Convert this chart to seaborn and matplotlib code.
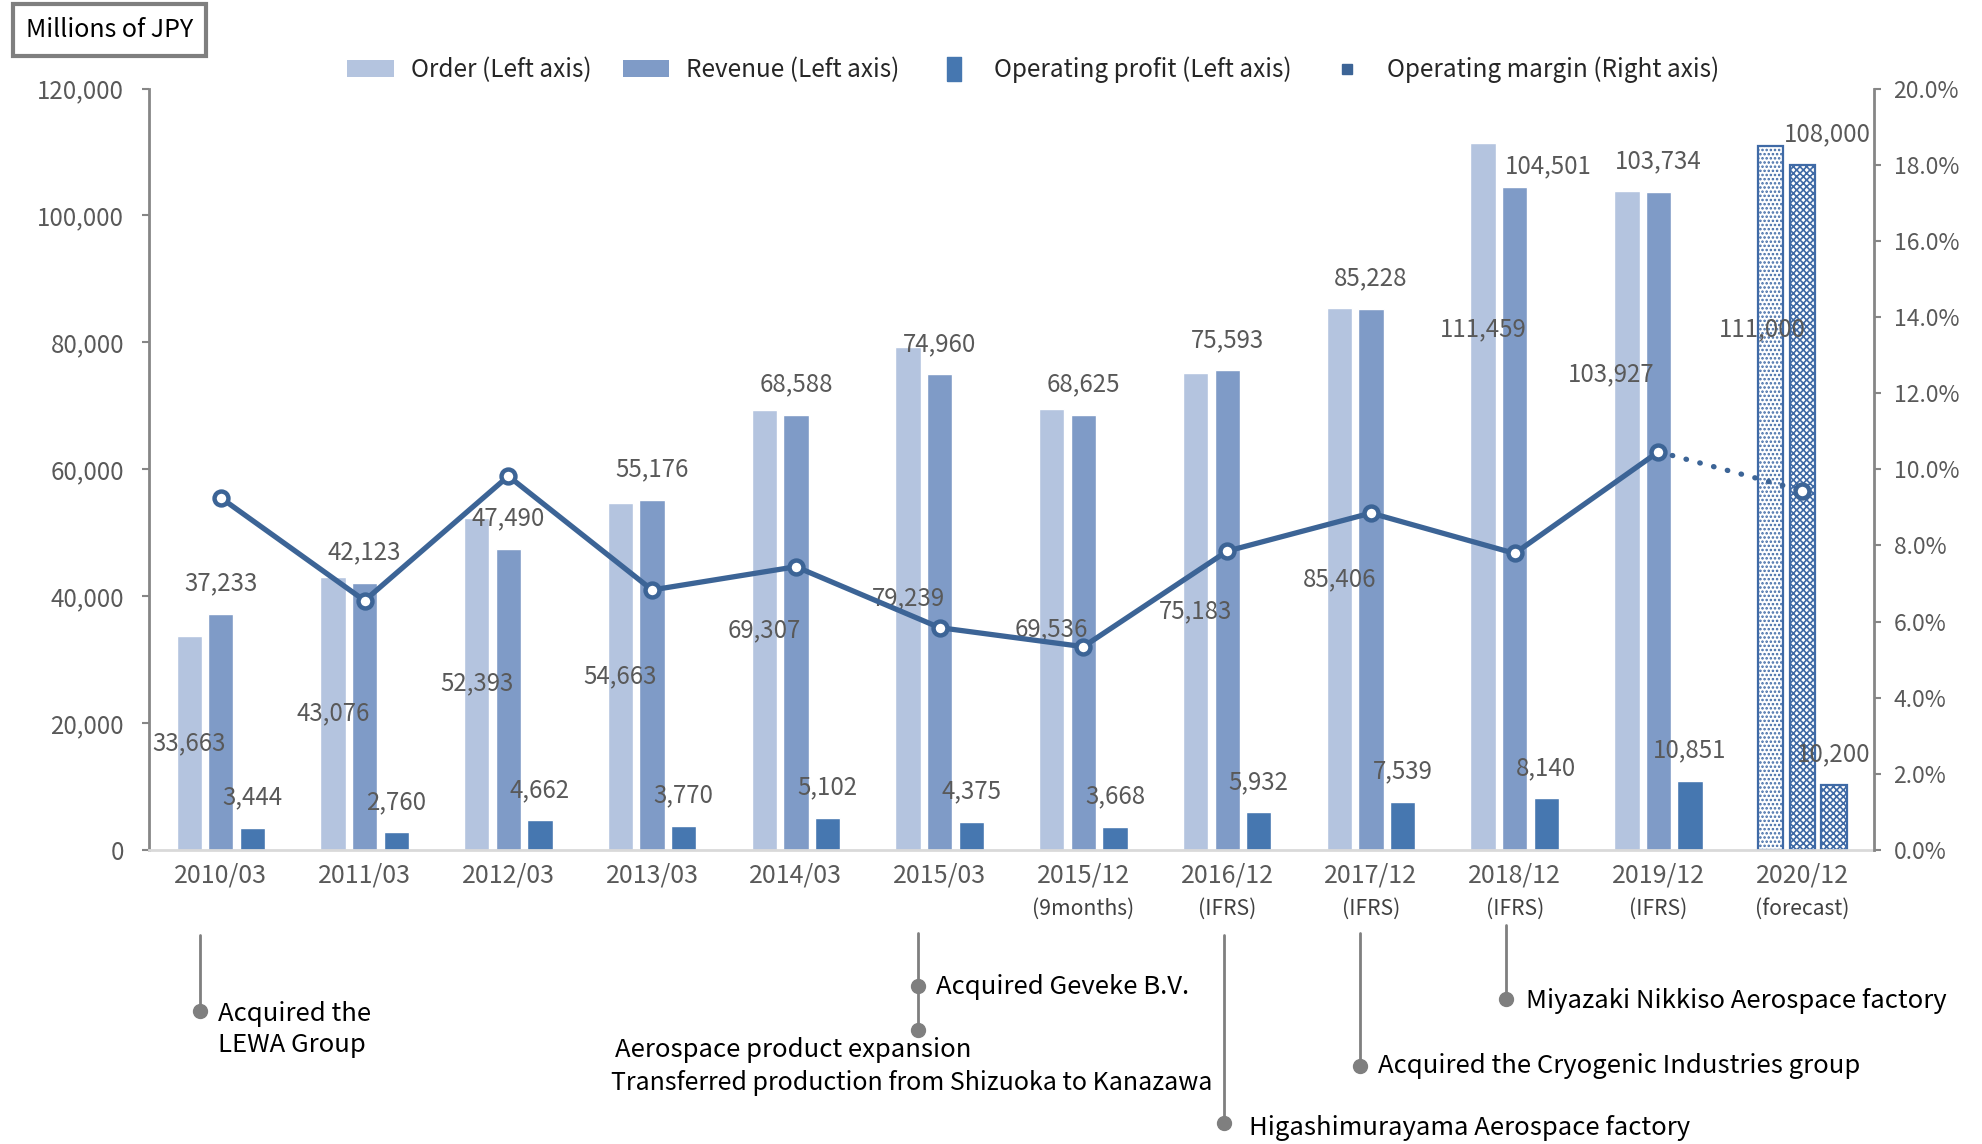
import numpy as np
import pandas as pd
import matplotlib
matplotlib.use("Agg")
import matplotlib.pyplot as plt
import matplotlib.transforms as mtrans
from matplotlib.patches import Patch
from matplotlib.lines import Line2D
import seaborn as sns

# ---------------- data ----------------
periods = ["2010/03", "2011/03", "2012/03", "2013/03", "2014/03", "2015/03",
           "2015/12", "2016/12", "2017/12", "2018/12", "2019/12", "2020/12"]
period_notes = ["", "", "", "", "", "", "(9months)", "(IFRS)", "(IFRS)",
                "(IFRS)", "(IFRS)", "(forecast)"]
orders = [33663, 43076, 52393, 54663, 69307, 79239, 69536, 75183, 85406,
          111459, 103927, 111000]
revenue = [37233, 42123, 47490, 55176, 68588, 74960, 68625, 75593, 85228,
           104501, 103734, 108000]
op_profit = [3444, 2760, 4662, 3770, 5102, 4375, 3668, 5932, 7539, 8140,
             10851, 10200]
op_margin = [9.25, 6.55, 9.82, 6.83, 7.44, 5.84, 5.34, 7.85, 8.85, 7.79,
             10.46, 9.44]
# label heights for order labels that were moved in the original chart
order_label_override = {9: 82000, 10: 75000, 11: 82000}

series_names = ["Order (Left axis)", "Revenue (Left axis)",
                "Operating profit (Left axis)"]
events = [
    ("Acquired the", "LEWA Group"),
    ("Acquired Geveke B.V.",),
    ("Aerospace product expansion",
     "Transferred production from Shizuoka to Kanazawa"),
    ("Higashimurayama Aerospace factory",),
    ("Acquired the Cryogenic Industries group",),
    ("Miyazaki Nikkiso Aerospace factory",),
]

# ---------------- style ----------------
sns.set_theme(style="white")
plt.rcParams["font.family"] = ["Noto Sans CJK JP", "DejaVu Sans"]
plt.rcParams["hatch.linewidth"] = 1.2

c_order = "#B4C4DF"
c_rev = "#7F9BC7"
c_op = "#4677B0"
c_line = "#3C6496"
c_hatch = "#3F6AA6"
c_text = "#595959"
c_axis = "#868686"

fig = plt.figure(figsize=(19.83, 11.44), dpi=100)
ax = fig.add_axes([0.0751, 0.257, 0.870, 0.6656])

df = pd.DataFrame({
    "period": periods * 3,
    "series": sum([[s] * len(periods) for s in series_names], []),
    "value": orders + revenue + op_profit,
})
sns.barplot(data=df, x="period", y="value", hue="series",
            hue_order=series_names, order=periods,
            palette=[c_order, c_rev, c_op], width=0.66, gap=0.2,
            edgecolor="white", linewidth=1.0, errorbar=None,
            legend=False, ax=ax, saturation=1)

# forecast bars: hatched
hatches = ["....", "xxxxx", "xxxxx"]
for cont, h in zip(ax.containers, hatches):
    b = cont[len(periods) - 1]
    b.set_facecolor("white")
    b.set_edgecolor(c_hatch)
    b.set_hatch(h)
    b.set_linewidth(1.6)

ax.set_xlim(-0.5, len(periods) - 0.5)
ax.set_ylim(0, 120000)
ax.set_yticks(np.arange(0, 120001, 20000))
ax.set_yticklabels([f"{v:,}" for v in range(0, 120001, 20000)])
ax.set_xlabel("")
ax.set_ylabel("")
ax.set_xticks(range(len(periods)))
ax.set_xticklabels(periods)

for s in ["top", "right"]:
    ax.spines[s].set_visible(False)
ax.spines["left"].set_color(c_axis)
ax.spines["left"].set_linewidth(2)
ax.spines["bottom"].set_color("#D9D9D9")
ax.spines["bottom"].set_linewidth(2)
ax.tick_params(axis="y", direction="out", length=5, width=1.5,
               color=c_axis, labelcolor=c_text, labelsize=17.3, pad=13, left=True)
ax.tick_params(axis="x", length=0, labelcolor=c_text, labelsize=18, pad=9)

# bar labels
fs_lab = 17.3
order_dx = {10: -11, 11: -6}
rev_off = {9: (24, 15), 11: (18, 22)}
cont_o, cont_r, cont_p = ax.containers
for i in range(len(periods)):
    xo = cont_o[i].get_x() + cont_o[i].get_width() / 2
    xr = cont_r[i].get_x() + cont_r[i].get_width() / 2
    xp = cont_p[i].get_x() + cont_p[i].get_width() / 2
    yo = order_label_override.get(i, orders[i] / 2)
    ax.annotate(f"{orders[i]:,}", (xo, yo), xytext=(order_dx.get(i, 0), 0),
                textcoords="offset points", ha="center", va="center",
                fontsize=fs_lab, color=c_text)
    ax.annotate(f"{revenue[i]:,}", (xr, revenue[i]),
                xytext=rev_off.get(i, (0, 22)),
                textcoords="offset points", ha="center", va="center",
                fontsize=fs_lab, color=c_text)
    ax.annotate(f"{op_profit[i]:,}", (xp, op_profit[i]), xytext=(0, 22),
                textcoords="offset points", ha="center", va="center",
                fontsize=fs_lab, color=c_text)

# second line of x labels
trans = mtrans.blended_transform_factory(ax.transData, ax.transAxes)
for i, note in enumerate(period_notes):
    if note:
        ax.text(i, -0.077, note, transform=trans, ha="center", va="center",
                fontsize=15.2, color="#404040")

# operating margin line (right axis)
ax2 = ax.twinx()
ax2.set_ylim(0, 20)
ax2.set_yticks(np.arange(0, 20.01, 2))
ax2.set_yticklabels([f"{v:.1f}%" for v in np.arange(0, 20.01, 2)])
n_act = len(periods) - 1
xs = np.arange(len(periods))
ax2.plot(xs[:n_act], op_margin[:n_act], color=c_line, lw=3.8, zorder=3)
ax2.plot(xs[n_act - 1:], op_margin[n_act - 1:], color=c_line, lw=3.8,
         linestyle=(0, (0.1, 2.6)), dash_capstyle="round", zorder=3)
ax2.plot(xs, op_margin, linestyle="none", marker="o", markersize=10,
         markerfacecolor="white", markeredgecolor=c_line,
         markeredgewidth=3.2, zorder=4)
for s in ["top", "left", "bottom"]:
    ax2.spines[s].set_visible(False)
ax2.spines["right"].set_color(c_axis)
ax2.spines["right"].set_linewidth(2)
ax2.tick_params(axis="y", direction="out", length=5, width=1.5, color=c_axis,
                labelcolor=c_text, labelsize=16.5, pad=9, right=True)
ax2.grid(False)
ax.grid(False)

# legend
tall_rect = [(-0.3, -0.5), (0.3, -0.5), (0.3, 0.5), (-0.3, 0.5), (-0.3, -0.5)]
handles = [
    Patch(facecolor=c_order, edgecolor="none"),
    Patch(facecolor=c_rev, edgecolor="none"),
    Line2D([0], [0], linestyle="none", marker=tall_rect, markersize=17,
           markerfacecolor=c_op, markeredgecolor=c_op),
    Line2D([0], [0], linestyle="none", marker="s", markersize=7,
           markerfacecolor=c_line, markeredgecolor=c_line),
]
labels = series_names + ["Operating margin (Right axis)"]
fig.legend(handles, labels, loc="center", bbox_to_anchor=(0.521, 0.939),
           ncol=4, frameon=False, fontsize=17.5, handlelength=1.9,
           handleheight=0.7, columnspacing=1.3, handletextpad=0.7)

# unit box
fig.text(0.0552, 0.9735, "Millions of JPY", ha="center", va="center",
         fontsize=18, color="black",
         bbox=dict(boxstyle="square,pad=0.52", facecolor="white",
                   edgecolor="#7F7F7F", linewidth=3))

# event annotations (figure coordinates, from displayed 1568x905 reference)
W, H = 1568.0, 905.0
def fx(x): return x / W
def fy(y): return 1 - y / H

c_ev = "#7F7F7F"
def vline(x, y0, y1, dots):
    fig.add_artist(Line2D([fx(x), fx(x)], [fy(y0), fy(y1)], color=c_ev,
                          lw=2, transform=fig.transFigure))
    for d in dots:
        fig.add_artist(Line2D([fx(x)], [fy(d)], marker="o", markersize=10,
                              color=c_ev, transform=fig.transFigure))

def etext(x, y, s, size=18.5):
    fig.text(fx(x), fy(y), s, ha="left", va="center", fontsize=size,
             color="black")

vline(158, 740, 800, [800])
etext(172, 802, events[0][0])
etext(172, 827, events[0][1])

vline(726, 738, 815, [780, 815])
etext(740, 781, events[1][0])
etext(486, 831, events[2][0])
etext(483, 857, events[2][1], 18)

vline(968, 740, 888, [888])
etext(988, 892, events[3][0])

vline(1075, 738, 843, [843])
etext(1090, 843, events[4][0])

vline(1191, 732, 790, [790])
etext(1207, 792, events[5][0])

fig.savefig("out.png", dpi=100, facecolor="white")
